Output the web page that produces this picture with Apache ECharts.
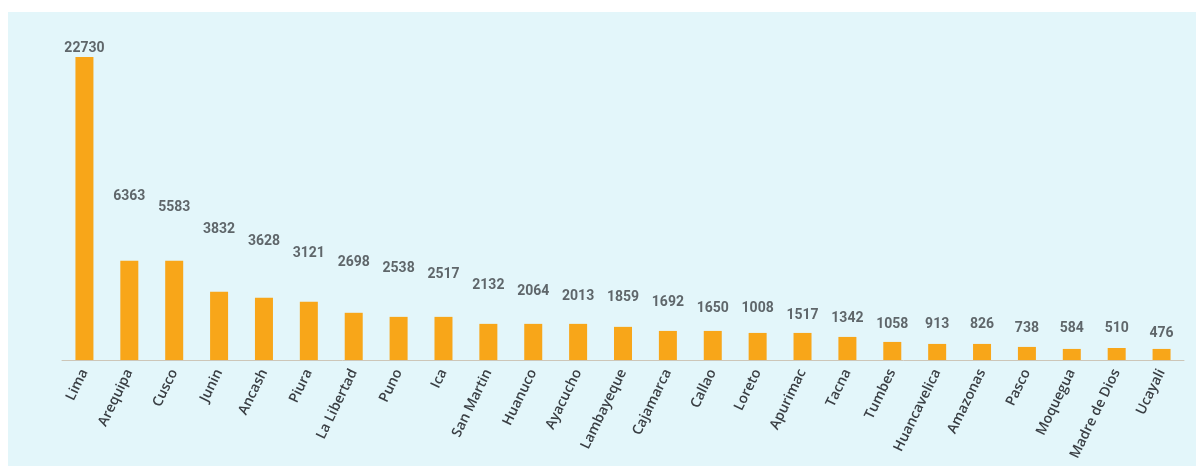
<!DOCTYPE html>
<html>
<head>
<meta charset="utf-8">
<script src="https://cdn.jsdelivr.net/npm/echarts@6/dist/echarts.min.js"></script>
<style>
html,body{margin:0;padding:0;background:#ffffff;}
#chart{width:1196px;height:466px;}
</style>
</head>
<body>
<div id="chart"></div>
<script>
// Categories (regions)
const categories = ["Lima","Arequipa","Cusco","Junin","Ancash","Piura","La Libertad","Puno","Ica","San Martin","Huanuco","Ayacucho","Lambayeque","Cajamarca","Callao","Loreto","Apurimac","Tacna","Tumbes","Huancavelica","Amazonas","Pasco","Moquegua","Madre de Dios","Ucayali"];
// Bar heights as drawn in the picture (scaled so Lima = 22730)
const barValues = [22730,7450,7450,5120,4670,4365,3540,3235,3235,2710,2710,2710,2485,2180,2180,2030,2030,1730,1355,1205,1205,980,830,900,830];
// Printed value labels
const valueLabels = ["22730","6363","5583","3832","3628","3121","2698","2538","2517","2132","2064","2013","1859","1692","1650","1008","1517","1342","1058","913","826","738","584","510","476"];
// Heights (same axis units) at which the printed labels sit
const labelHeights = [23400,12300,11475,9825,8925,8025,7350,6900,6450,5625,5175,4800,4725,4350,3900,3900,3375,3150,2700,2700,2700,2400,2400,2400,2025];

const chart = echarts.init(document.getElementById('chart'), null, {renderer:'canvas'});
chart.setOption({
  backgroundColor:'#ffffff',
  animation:false,
  graphic:[{
    type:'rect', z:-10, silent:true,
    shape:{x:8,y:12,width:1188,height:454},
    style:{fill:'#e3f6fa'}
  }],
  grid:{left:62,right:12,top:40,bottom:106,containLabel:false},
  xAxis:{
    type:'category',
    data:categories,
    axisLine:{show:true,lineStyle:{color:'#cdc6b8',width:1}},
    axisTick:{show:false},
    axisLabel:{
      rotate:64, margin:10, interval:0,
      color:'#3a3f44', fontSize:14, fontWeight:600,
      fontFamily:'"Open Sans", Roboto, sans-serif'
    }
  },
  yAxis:{
    type:'value', min:0, max:24000, show:false,
    splitLine:{show:false}
  },
  series:[
    {
      type:'bar',
      data:barValues,
      barWidth:18,
      itemStyle:{color:'#f8a619'},
      z:2
    },
    {
      type:'scatter',
      data:labelHeights,
      symbolSize:0,
      silent:true,
      z:3,
      label:{
        show:true,
        position:'inside',
        formatter:p => valueLabels[p.dataIndex],
        color:'#3d4246',
        fontSize:14,
        fontWeight:'bold',
        fontFamily:'Roboto, "Noto Sans", sans-serif'
      }
    }
  ]
});
</script>
</body>
</html>
